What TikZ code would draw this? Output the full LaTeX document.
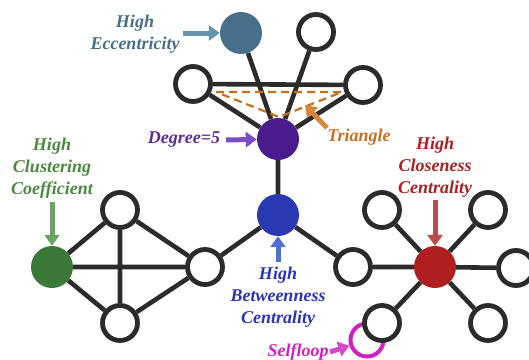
\documentclass[tikz,border=0pt]{standalone}
\usepackage{fontspec}
\setmainfont{Liberation Serif}
\usetikzlibrary{arrows.meta}
\definecolor{edgec}{HTML}{2B2B2B}
\definecolor{eccC}{HTML}{476E8A}
\definecolor{eccA}{HTML}{6394AE}
\definecolor{purC}{HTML}{4B1A8C}
\definecolor{purT}{HTML}{5A2CA0}
\definecolor{purA}{HTML}{7B4DC4}
\definecolor{bluC}{HTML}{2A38B2}
\definecolor{bluT}{HTML}{2A35B5}
\definecolor{bluA}{HTML}{4F6FD4}
\definecolor{grnC}{HTML}{3B7A36}
\definecolor{grnT}{HTML}{4A8A40}
\definecolor{grnA}{HTML}{6DA364}
\definecolor{redC}{HTML}{B01F1F}
\definecolor{redT}{HTML}{A82020}
\definecolor{redA}{HTML}{C04A4A}
\definecolor{orgC}{HTML}{C8701C}
\definecolor{orgA}{HTML}{D4883E}
\definecolor{magC}{HTML}{D020C0}
\definecolor{magA}{HTML}{D448CC}
\begin{document}
\begin{tikzpicture}[x=1pt,y=-1pt,
  wnode/.style={circle,draw=edgec,line width=4.8pt,fill=white,minimum size=35pt,inner sep=0pt},
  cnode/.style={circle,fill=#1,minimum size=42pt,inner sep=0pt},
  edge/.style={draw=edgec,line width=4.6pt},
  lbl/.style={text=#1,font=\fontsize{18}{22}\selectfont\bfseries\itshape,align=center,inner sep=0pt},
  larrow/.style={draw=#1,line width=5pt,-{Triangle[length=11pt,width=15pt]}},
  tridash/.style={draw=orgC,line width=2.2pt,dash pattern=on 8pt off 5pt}
]
\useasboundingbox (0,0) rectangle (529,359);
% self loop (beneath nodes)
\node[circle,draw=magC,line width=4pt,minimum size=33pt,inner sep=0pt] (loop) at (367,340) {};
% nodes
\node[cnode=eccC] (ecc) at (241,33) {};
\node[wnode] (tr) at (316,32) {};
\node[wnode] (tl) at (193,84) {};
\node[wnode] (trr) at (363,85) {};
\node[cnode=purC] (deg) at (278,139) {};
\node[cnode=bluC] (btw) at (278,215) {};
\node[cnode=grnC] (grn) at (52,267) {};
\node[wnode] (ct) at (120,210) {};
\node[wnode] (cr) at (205,267) {};
\node[wnode] (cb) at (120,323) {};
\node[cnode=redC] (red) at (435,267) {};
\node[wnode] (sl) at (353,267) {};
\node[wnode] (sul) at (382,210) {};
\node[wnode] (sur) at (488,210) {};
\node[wnode] (sr) at (516,268) {};
\node[wnode] (sdl) at (382,323) {};
\node[wnode] (sdr) at (488,323) {};
% edges
\path[edge] (ecc) -- (deg) (tr) -- (deg) (tl) -- (trr) (tl) -- (deg) (trr) -- (deg)
  (deg) -- (btw) (btw) -- (cr) (btw) -- (sl)
  (grn) -- (ct) (grn) -- (cr) (grn) -- (cb) (ct) -- (cb) (ct) -- (cr) (cb) -- (cr)
  (red) -- (sl) (red) -- (sul) (red) -- (sur) (red) -- (sr) (red) -- (sdl) (red) -- (sdr);
% dashed triangle
\coordinate (d1) at (216,92);
\coordinate (d2) at (342,92);
\coordinate (d3) at (279,117);
\path[tridash] (d1) -- (d2) -- (d3) -- cycle;
% labels
\node[lbl=eccC] (tecc) at (135,34) {High\\Eccentricity};
\node[lbl=purT] (tdeg) at (184,140) {Degree=5};
\node[lbl=orgC] (ttri) at (359,137) {Triangle};
\node[lbl=grnT] (tgrn) at (52,168) {High\\Clustering\\Coefficient};
\node[lbl=redT] (tred) at (435,167) {High\\Closeness\\Centrality};
\node[lbl=bluT] (tbtw) at (278,297) {High\\Betweenness\\Centrality};
\node[lbl=magC] (tloop) at (298,352) {Selfloop};
% label arrows
\coordinate (aecc) at (183,33);
\coordinate (adeg) at (226,140);
\coordinate (atri1) at (327,128);
\coordinate (atri2) at (305,105);
\coordinate (agrn) at (52,202);
\coordinate (ared) at (435,200);
\coordinate (abtw) at (278,262);
\coordinate (aloop) at (330,352);
\draw[larrow=eccA] (aecc) -- (ecc);
\draw[larrow=purA] (adeg) -- (deg);
\draw[larrow=orgA] (atri1) -- (atri2);
\draw[larrow=grnA] (agrn) -- (grn);
\draw[larrow=redA] (ared) -- (red);
\draw[larrow=bluA] (abtw) -- (btw);
\draw[larrow=magA] (aloop) -- (loop);
\end{tikzpicture}
\end{document}
